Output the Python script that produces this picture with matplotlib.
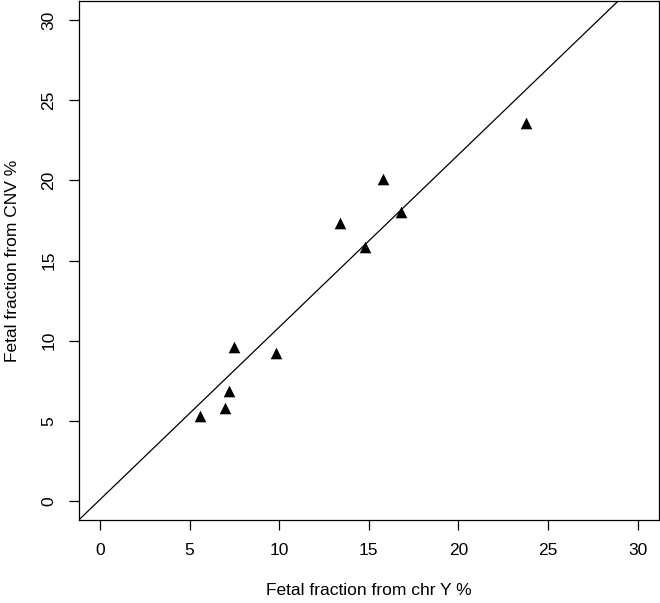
import numpy as np
import matplotlib
matplotlib.use("Agg")
import matplotlib.pyplot as plt

plt.rcParams['font.family'] = ['Liberation Sans', 'DejaVu Sans']

# fetal fraction estimates (%)
ff_chrY = [5.6, 7.0, 7.2, 7.5, 9.8, 13.4, 14.8, 15.8, 16.8, 23.8]
ff_cnv = [5.3, 5.8, 6.85, 9.6, 9.23, 17.34, 15.85, 20.09, 18.03, 23.58]

# fitted line (intercept, slope)
fit_a = 0.1
fit_b = 1.075

ticks = [0, 5, 10, 15, 20, 25, 30]

fig = plt.figure(figsize=(6.6, 6.03), dpi=100)
ax = fig.add_axes([0.1190, 0.1370, 0.8795, 0.8617])

ax.scatter(ff_chrY, ff_cnv, marker='^', s=70, c='black', linewidths=0, zorder=3)
ax.axline((0, fit_a), slope=fit_b, color='black', lw=0.9)

ax.set_xlim(-1.2, 31.2)
ax.set_ylim(-1.2, 31.2)
ax.set_xticks(ticks)
ax.set_yticks(ticks)
ax.set_yticklabels([str(t) for t in ticks], rotation=90, va='center')
ax.tick_params(axis='both', labelsize=12.5, length=7, width=0.9, pad=9)
for s in ax.spines.values():
    s.set_linewidth(0.9)

ax.set_xlabel("Fetal fraction from chr Y %", fontsize=12.5, va='center')
ax.set_ylabel("Fetal fraction from CNV %", fontsize=12.5, va='center')
ax.xaxis.set_label_coords(0.5, -0.135)
ax.yaxis.set_label_coords(-0.1146, 0.5)

plt.savefig("out.png", dpi=100)
plt.close()
